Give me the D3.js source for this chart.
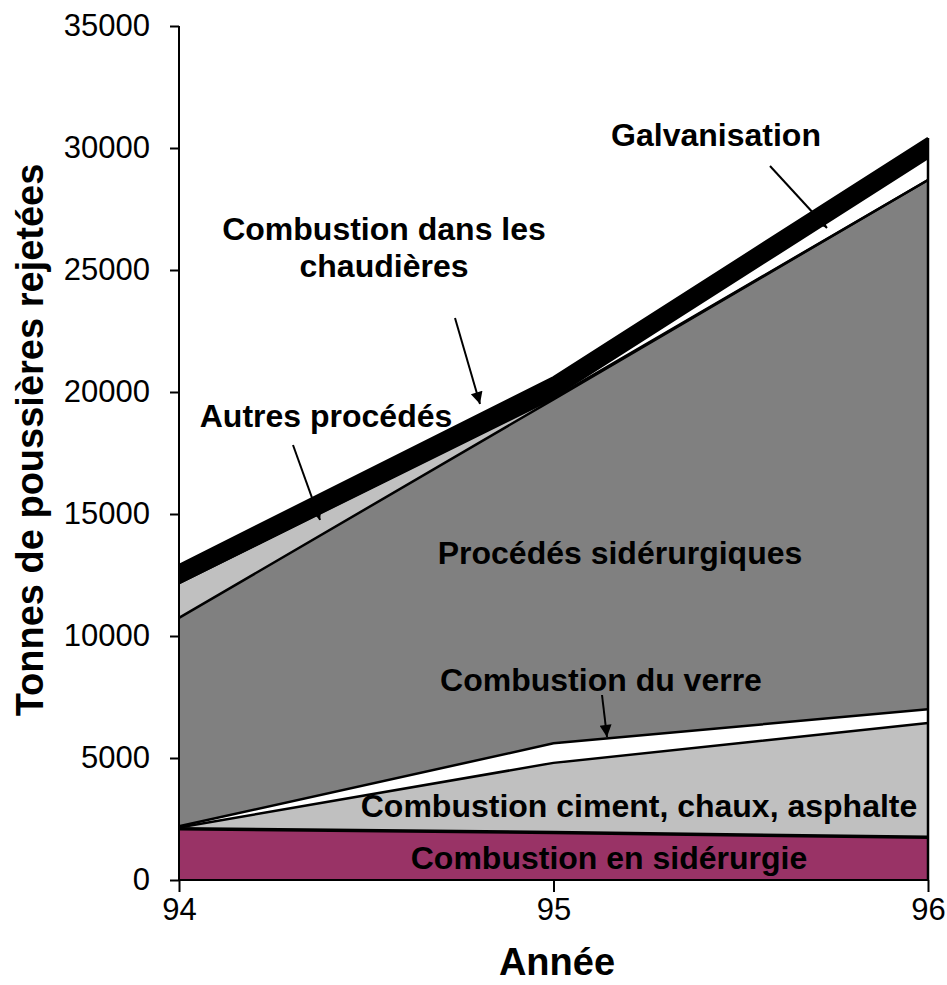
<!DOCTYPE html>
<html>
<head>
<meta charset="utf-8">
<script src="https://cdn.jsdelivr.net/npm/d3@7"></script>
<style>
  html, body { margin: 0; padding: 0; background: #fff; }
  svg { display: block; font-family: "Liberation Sans", Arial, sans-serif; }
</style>
</head>
<body>
<svg id="chart" width="947" height="985"></svg>
<script>
// Years on the x axis
const years = [94, 95, 96];

// Dust emissions (tonnes) per source, stacked bottom to top
const combustionSiderurgie = [2100, 1950, 1750];
const combustionCiment     = [50, 2850, 4680];
const combustionVerre      = [50, 800, 570];
const procedesSiderurgiques = [8540, 14100, 21690];
const autresProcedes       = [1430, 50, 0];
const galvanisation        = [0, 50, 900];
const combustionChaudieres = [740, 800, 820];

const yTicks = [0, 5000, 10000, 15000, 20000, 25000, 30000, 35000];
const xTickLabels = ["94", "95", "96"];

const seriesKeys = ["sid", "ciment", "verre", "proc", "autres", "galva", "chaud"];
const seriesFill = {
  sid: "#993366", ciment: "#C0C0C0", verre: "#FFFFFF", proc: "#808080",
  autres: "#C0C0C0", galva: "#FFFFFF", chaud: "#000000"
};

const rows = years.map((yr, i) => ({
  year: yr,
  sid: combustionSiderurgie[i],
  ciment: combustionCiment[i],
  verre: combustionVerre[i],
  proc: procedesSiderurgiques[i],
  autres: autresProcedes[i],
  galva: galvanisation[i],
  chaud: combustionChaudieres[i]
}));

const svg = d3.select("#chart");
const plotLeft = 179, plotRight = 928, plotTop = 26, plotBottom = 880;

const x = d3.scaleLinear().domain([94, 96]).range([plotLeft, plotRight]);
const y = d3.scaleLinear().domain([0, 35000]).range([plotBottom, plotTop]);

const stacked = d3.stack().keys(seriesKeys)(rows);

const area = d3.area()
  .x(d => x(d.data.year))
  .y0(d => y(d[0]))
  .y1(d => y(d[1]));

const topLine = d3.line()
  .x(d => x(d.data.year))
  .y(d => y(d[1]));

// Filled layers
svg.append("g").selectAll("path")
  .data(stacked)
  .join("path")
  .attr("d", area)
  .attr("fill", d => seriesFill[d.key])
  .attr("stroke", "none");

// Outline on top of each layer
svg.append("g").selectAll("path")
  .data(stacked)
  .join("path")
  .attr("d", topLine)
  .attr("fill", "none")
  .attr("stroke", "#000")
  .attr("stroke-width", d => d.key === "sid" ? 3.5 : 2.5);

// Right edge of the stacked area
const last = stacked[stacked.length - 1];
svg.append("line")
  .attr("x1", x(96)).attr("x2", x(96))
  .attr("y1", y(0)).attr("y2", y(last[2][1]))
  .attr("stroke", "#000").attr("stroke-width", 2.5);

// Y axis
const yAxis = d3.axisLeft(y).tickValues(yTicks).tickSize(9).tickPadding(20).tickFormat(d3.format("d"));
const gy = svg.append("g").attr("transform", `translate(${plotLeft},0)`).call(yAxis);
gy.select(".domain").attr("stroke", "#000").attr("stroke-width", 2).attr("d", `M0,${plotTop}V${plotBottom}`);
gy.selectAll(".tick line").attr("stroke", "#000").attr("stroke-width", 2);
gy.selectAll(".tick text").attr("font-size", 31).attr("fill", "#000").attr("font-family", "Liberation Sans, Arial, sans-serif");

// X axis
const xAxis = d3.axisBottom(x).tickValues(years).tickSize(12).tickPadding(6).tickFormat((d, i) => xTickLabels[i]);
const gx = svg.append("g").attr("transform", `translate(0,${plotBottom})`).call(xAxis);
gx.select(".domain").attr("stroke", "#000").attr("stroke-width", 2).attr("d", `M${plotLeft},0H${plotRight}`);
gx.selectAll(".tick line").attr("stroke", "#000").attr("stroke-width", 2);
gx.selectAll(".tick text").attr("font-size", 31).attr("fill", "#000").attr("font-family", "Liberation Sans, Arial, sans-serif");

// Axis titles
svg.append("text")
  .attr("x", 557).attr("y", 975)
  .attr("text-anchor", "middle")
  .attr("font-size", 38).attr("font-weight", "bold")
  .text("Année");

svg.append("text")
  .attr("transform", "translate(43,440) rotate(-90)")
  .attr("text-anchor", "middle")
  .attr("font-size", 38).attr("font-weight", "bold")
  .text("Tonnes de poussières rejetées");

// Series labels
const labels = [
  { t: "Galvanisation", x: 716, y: 146 },
  { t: "Combustion dans les", x: 384, y: 240 },
  { t: "chaudières", x: 384, y: 277 },
  { t: "Autres procédés", x: 326, y: 427 },
  { t: "Procédés sidérurgiques", x: 620, y: 564 },
  { t: "Combustion du verre", x: 601, y: 691 },
  { t: "Combustion ciment, chaux, asphalte", x: 639, y: 817 },
  { t: "Combustion en sidérurgie", x: 609, y: 869 }
];
svg.append("g").selectAll("text")
  .data(labels)
  .join("text")
  .attr("x", d => d.x).attr("y", d => d.y)
  .attr("text-anchor", "middle")
  .attr("font-size", 32).attr("font-weight", "bold")
  .attr("fill", "#000")
  .text(d => d.t);

// Pointer arrows from labels to their layers
svg.append("defs").append("marker")
  .attr("id", "head")
  .attr("viewBox", "0 0 10 10")
  .attr("refX", 10).attr("refY", 5)
  .attr("markerWidth", 8).attr("markerHeight", 6)
  .attr("markerUnits", "strokeWidth")
  .attr("orient", "auto")
  .append("path").attr("d", "M0,0L10,5L0,10Z").attr("fill", "#000");

const arrows = [
  { x1: 770, y1: 166, x2: 827, y2: 228 },
  { x1: 455, y1: 318, x2: 480, y2: 404 },
  { x1: 293, y1: 445, x2: 320, y2: 520 },
  { x1: 602, y1: 695, x2: 607, y2: 737 }
];
svg.append("g").selectAll("line")
  .data(arrows)
  .join("line")
  .attr("x1", d => d.x1).attr("y1", d => d.y1)
  .attr("x2", d => d.x2).attr("y2", d => d.y2)
  .attr("stroke", "#000").attr("stroke-width", 2)
  .attr("marker-end", "url(#head)");
</script>
</body>
</html>
